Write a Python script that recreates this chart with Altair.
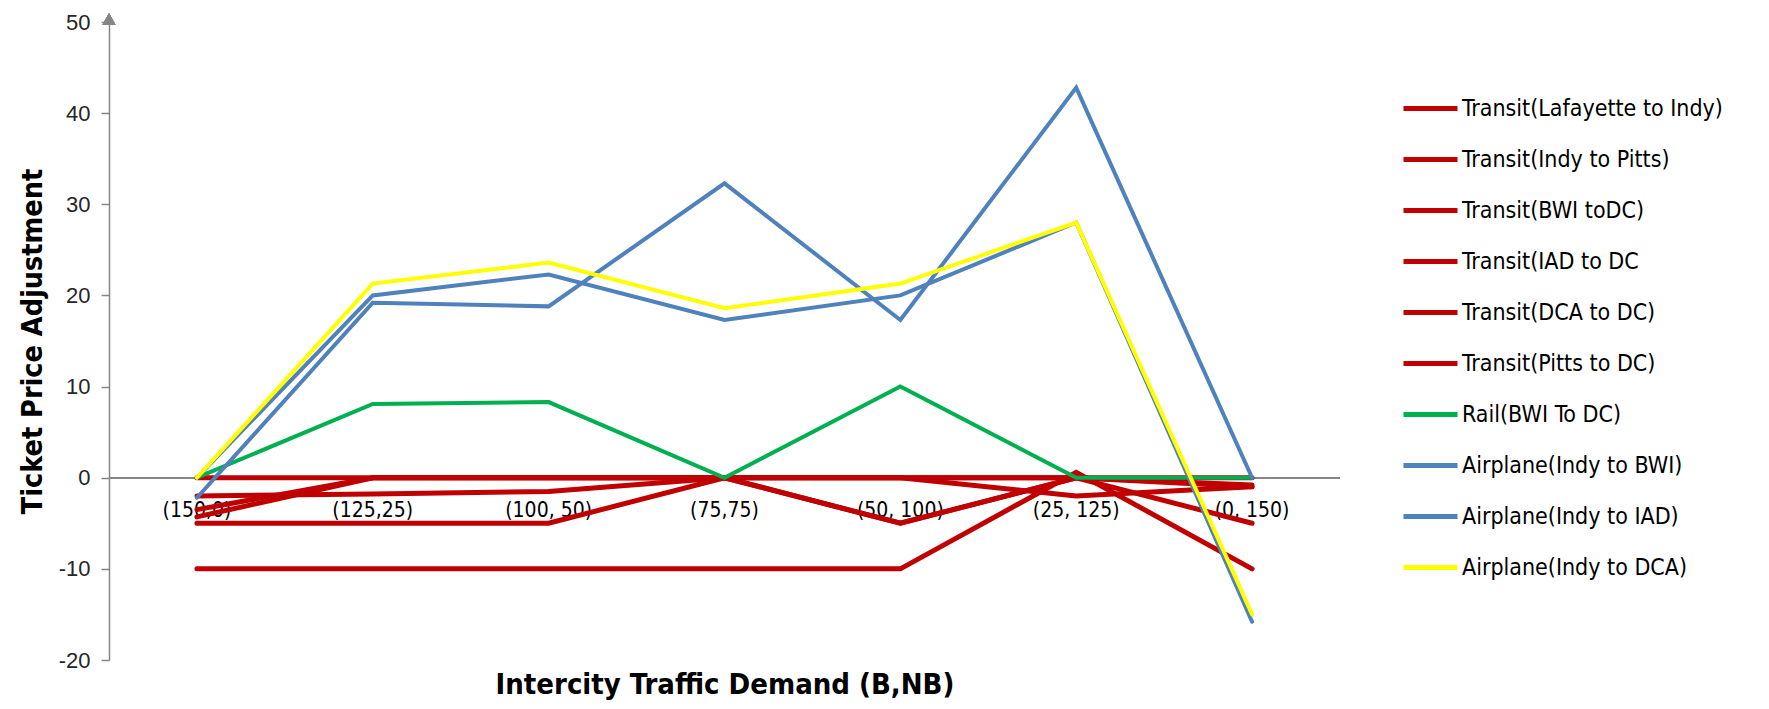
import altair as alt
import pandas as pd

categories = ["(150,0)", "(125,25)", "(100, 50)", "(75,75)", "(50, 100)", "(25, 125)", "(0, 150)"]

series_names = [
    "Transit(Lafayette to Indy)",
    "Transit(Indy to Pitts)",
    "Transit(BWI toDC)",
    "Transit(IAD to DC",
    "Transit(DCA to DC)",
    "Transit(Pitts to DC)",
    "Rail(BWI To DC)",
    "Airplane(Indy to BWI)",
    "Airplane(Indy to IAD)",
    "Airplane(Indy to DCA)",
]

transit_laf_indy = [0, 0, 0, 0, 0, -2, -1]
transit_indy_pitts = [-2, -1.8, -1.5, 0, -5, 0, -0.8]
transit_bwi_dc = [-3.5, 0, 0, 0, -5, 0, -5]
transit_iad_dc = [-4.3, 0, 0, 0, 0, 0, 0]
transit_dca_dc = [-5, -5, -5, 0, 0, 0, -1]
transit_pitts_dc = [-10, -10, -10, -10, -10, 0.6, -10]
rail_bwi_dc = [0, 8.1, 8.3, 0, 10, 0, 0]
air_indy_bwi = [-2.2, 19.2, 18.8, 32.3, 17.3, 42.8, 0]
air_indy_iad = [0, 20, 22.3, 17.3, 20, 28, -15.8]
air_indy_dca = [0, 21.3, 23.6, 18.6, 21.3, 28, -15]

series_values = [
    transit_laf_indy, transit_indy_pitts, transit_bwi_dc, transit_iad_dc,
    transit_dca_dc, transit_pitts_dc, rail_bwi_dc, air_indy_bwi,
    air_indy_iad, air_indy_dca,
]

series_colors = ["#C00000"] * 6 + ["#00B050", "#4F81BD", "#4F81BD", "#FFFF00"]

y_ticks = [-20, -10, 0, 10, 20, 30, 40, 50]

rows = []
for name, vals in zip(series_names, series_values):
    for c, v in zip(categories, vals):
        rows.append({"cat": c, "series": name, "value": v})
df = pd.DataFrame(rows)
labels_df = pd.DataFrame({"cat": categories})

NARROW = "Liberation Sans Narrow, DejaVu Sans Condensed, Arial Narrow, sans-serif"
REG = "Liberation Sans, Arial, sans-serif"
W, H = 1231, 638

x_enc = alt.X("cat:N", scale=alt.Scale(domain=categories),
              axis=alt.Axis(labels=False, ticks=False, domain=False,
                            title="Intercity Traffic Demand (B,NB)",
                            titleFont=NARROW, titleFontSize=29, titleFontWeight="bold",
                            titleColor="#000000", titleY=24, titleBaseline="middle"))
y_enc = alt.Y("value:Q", scale=alt.Scale(domain=[-20, 50], nice=False),
              axis=alt.Axis(values=y_ticks, grid=False, domainColor="#868686",
                            domainWidth=1.5, tickColor="#868686", tickWidth=1.5,
                            tickSize=8, labelPadding=11, labelFont=REG,
                            labelFontSize=22, labelColor="#262626",
                            labelExpr="'' + datum.value",
                            title="Ticket Price Adjustment", titleFont=NARROW,
                            titleFontSize=28.5, titleFontWeight="bold", titleColor="#000000",
                            titleAngle=270, titleX=-77, titleY=H / 2,
                            titleAlign="center", titleBaseline="middle"))

color_enc = alt.Color("series:N",
                      scale=alt.Scale(domain=series_names, range=series_colors),
                      legend=alt.Legend(title=None, orient="none", legendX=1292, legendY=57,
                                        symbolType="stroke", symbolSize=2916,
                                        symbolStrokeWidth=5, rowPadding=9,
                                        labelFont=NARROW, labelFontSize=23,
                                        labelColor="#000000", labelOffset=2,
                                        labelLimit=400, padding=0))

base = alt.Chart(df)

zero_rule = alt.Chart(labels_df).mark_rule(color="#868686", strokeWidth=1.5).encode(
    y=alt.datum(0))

x_labels = alt.Chart(labels_df).mark_text(
    font=NARROW, fontSize=21, dy=33, baseline="middle", color="#000000"
).encode(x=x_enc, y=alt.datum(0), text="cat:N")

red_lines = base.transform_filter(
    alt.FieldOneOfPredicate(field="series", oneOf=series_names[:6])
).mark_line(strokeWidth=5, strokeCap="round").encode(
    x=x_enc, y=y_enc, color=color_enc)

other_lines = base.transform_filter(
    alt.FieldOneOfPredicate(field="series", oneOf=series_names[6:])
).mark_line(strokeWidth=4, strokeCap="round").encode(
    x=x_enc, y=y_enc, color=color_enc)

arrow = alt.Chart(labels_df).mark_point(
    shape="triangle-up", filled=True, color="#868686", size=170, opacity=1, yOffset=-3
).encode(x=alt.value(0), y=alt.datum(50))

chart = alt.layer(zero_rule, x_labels, red_lines, other_lines, arrow).properties(
    width=W, height=H,
    autosize=alt.AutoSizeParams(type="none"),
    padding={"left": 101, "top": 14, "right": 420, "bottom": 41},
    background="white",
).configure_view(stroke=None)

chart.save("out.html", embed_options={"renderer": "svg", "actions": False})
